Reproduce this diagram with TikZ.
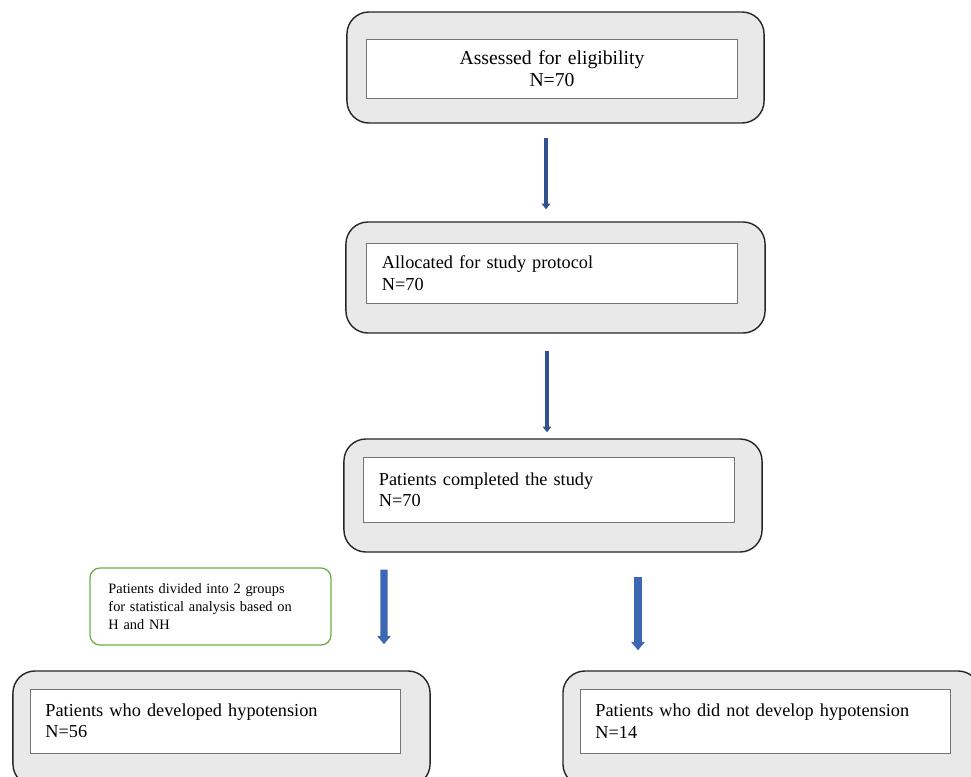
\documentclass[tikz,border=0pt]{standalone}
\usepackage{fontspec}
\setmainfont{Liberation Serif}
\usepackage{tikz}
\usetikzlibrary{arrows}
\usetikzlibrary{arrows.meta}
\usetikzlibrary{calc}

\definecolor{darkarrow}{RGB}{47,82,143}
\definecolor{midarrow}{RGB}{61,103,180}
\definecolor{boxgray}{RGB}{233,233,233}
\definecolor{notegreen}{RGB}{112,173,71}

\tikzset{
  outerbox/.style={draw=black!85, line width=1pt, fill=boxgray, rounded corners=0.55cm, inner sep=0pt},
  innerbox/.style={draw=black!55, line width=0.7pt, fill=white, inner sep=0pt, minimum width=9.25cm,
    font=\fontsize{13}{15.2}\selectfont, text width=8.5cm, align=left},
  notebox/.style={draw=notegreen, line width=0.9pt, fill=white, rounded corners=0.25cm, inner sep=0pt,
    minimum width=6.025cm, minimum height=1.925cm, text width=5.1cm, align=left,
    font=\fontsize{10.2}{12.8}\selectfont},
  thinarrow/.style={line width=2.8pt, darkarrow, -{Triangle[width=6pt,length=4pt]}},
  widearrow/.style={line width=5pt, midarrow, -{Triangle[width=9.5pt,length=6pt]}}
}

\begin{document}
\begin{tikzpicture}[x=0.025cm, y=-0.025cm]

\useasboundingbox (0,0) rectangle (971,776);
\clip (0,0) rectangle (971,776);

\node[outerbox, minimum width=10.425cm, minimum height=2.775cm] (assess) at (555.5,67.5) {};
\node[innerbox, minimum height=1.475cm, align=center, font=\fontsize{14}{15.3}\selectfont] (assessin) at (552,68.5) {Assessed for eligibility\\N=70};

\node[outerbox, minimum width=10.475cm, minimum height=2.775cm] (alloc) at (555.5,277.5) {};
\node[innerbox, minimum height=1.5cm] (allocin) at (552,273) {Allocated for study protocol\\N=70};

\node[outerbox, minimum width=10.45cm, minimum height=2.825cm] (done) at (553,495.5) {};
\node[innerbox, minimum height=1.625cm] (donein) at (549,489.5) {Patients completed the study\\N=70};

\node[notebox] (groups) at (210.5,606.5) {Patients divided into 2 groups\\for statistical analysis based on\\H and NH};

\node[outerbox, minimum width=10.425cm, minimum height=2.875cm] (hyp) at (221.5,728.5) {};
\node[innerbox, minimum width=9.225cm, minimum height=1.6cm] (hypin) at (215.5,721) {Patients who developed hypotension\\N=56};

\node[outerbox, minimum width=10.425cm, minimum height=2.875cm] (nohyp) at (771.5,728.5) {};
\node[innerbox, minimum width=9.225cm, minimum height=1.6cm] (nohypin) at (765.5,721) {Patients who did not develop hypotension\\N=14};

\draw[thinarrow] ($(assess.south)+(-9.5,14)$) -- ($(alloc.north)+(-9.5,-12)$);
\draw[thinarrow] ($(alloc.south)+(-8.5,17)$) -- ($(done.north)+(-6,-6)$);
\draw[widearrow] ($(done.south)+(-169,17)$) -- ($(hyp.north)+(162.5,-26)$);
\draw[widearrow] ($(done.south)+(85,24)$) -- ($(nohyp.north)+(-133.5,-20)$);

\end{tikzpicture}
\end{document}
